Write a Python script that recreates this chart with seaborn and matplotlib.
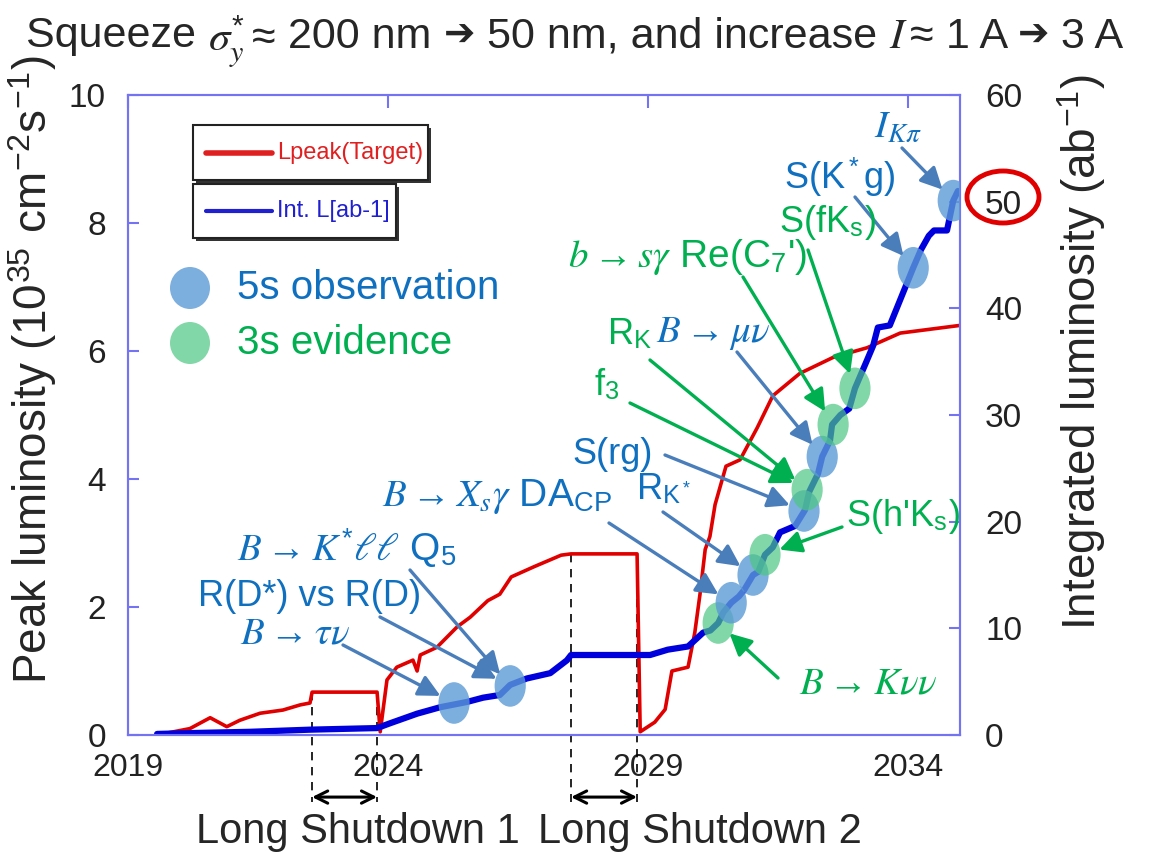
import numpy as np
import matplotlib
matplotlib.use("Agg")
import matplotlib.pyplot as plt
import seaborn as sns
from matplotlib.patches import Ellipse, Rectangle
from matplotlib.lines import Line2D

# ---------------- data ----------------
peak_year = [2019.56, 2020.19, 2020.58, 2020.90, 2021.15, 2021.54, 2021.98, 2022.31, 2022.50,
             2022.54, 2023.79, 2023.85, 2023.98, 2024.17, 2024.48, 2024.56, 2024.62, 2024.94,
             2025.33, 2025.58, 2025.92, 2026.15, 2026.37, 2026.81, 2027.33, 2027.52, 2028.79,
             2028.85, 2029.13, 2029.33, 2029.46, 2029.77, 2029.90, 2030.00, 2030.10, 2030.19,
             2030.29, 2030.50, 2030.77, 2031.10, 2031.40, 2031.92, 2032.56, 2033.21, 2033.85,
             2035.00]
peak_lumi = [0.00, 0.10, 0.27, 0.13, 0.23, 0.34, 0.39, 0.47, 0.50,
             0.67, 0.67, 0.05, 0.86, 1.06, 1.17, 1.00, 1.25, 1.37,
             1.69, 1.84, 2.10, 2.20, 2.47, 2.63, 2.81, 2.83, 2.83,
             0.05, 0.20, 0.40, 1.00, 1.06, 1.60, 2.20, 2.90, 3.10,
             3.60, 4.20, 4.30, 4.80, 5.30, 5.65, 5.90, 6.05, 6.28,
             6.40]

int_year = [2019.56, 2020.38, 2021.35, 2022.50, 2023.79, 2024.04, 2024.56, 2025.00, 2025.52,
            2025.83, 2026.15, 2026.35, 2026.67, 2027.12, 2027.44, 2027.52, 2029.04, 2029.38,
            2029.77, 2030.06, 2030.20, 2030.35, 2030.45, 2030.60, 2030.75, 2030.85, 2031.02,
            2031.12, 2031.25, 2031.40, 2031.54, 2031.83, 2032.02, 2032.10, 2032.27, 2032.35,
            2032.50, 2032.54, 2032.70, 2032.87, 2032.98, 2033.20, 2033.33, 2033.42, 2033.65,
            2033.90, 2034.10, 2034.25, 2034.40, 2034.50, 2034.75, 2034.87, 2034.96]
int_lumi = [0.1, 0.2, 0.3, 0.5, 0.65, 1.1, 2.0, 2.6, 3.1,
            3.5, 3.75, 4.7, 5.3, 5.8, 7.0, 7.5, 7.5, 8.0,
            8.3, 9.6, 9.8, 10.5, 11.5, 12.4, 13.0, 13.6, 15.0,
            15.3, 16.9, 17.6, 19.0, 19.6, 21.1, 22.8, 24.5, 26.1,
            27.6, 29.1, 30.0, 30.6, 32.5, 35.0, 36.5, 38.2, 38.4,
            41.4, 43.8, 45.5, 46.8, 47.3, 47.3, 50.1, 51.0]

# measurement milestones on the integrated-luminosity curve
obs_year = [2025.27, 2026.35, 2030.35, 2030.60, 2031.02, 2031.25, 2032.00, 2032.06,
            2032.35, 2032.56, 2032.98, 2034.10, 2034.87]
obs_lumi = [3.0, 4.6, 10.5, 12.4, 15.0, 16.9, 21.0, 23.0, 26.1, 29.1, 32.5, 43.8, 50.1]
obs_kind = ["5s", "5s", "3s", "5s", "5s", "3s", "5s", "3s", "5s", "3s", "3s", "5s", "5s"]

shutdown_start = [2022.54, 2027.52]
shutdown_end = [2023.79, 2028.79]
shutdown_labels = ["Long Shutdown 1", "Long Shutdown 2"]

left_ticks = [0, 2, 4, 6, 8, 10]
right_ticks = [0, 10, 20, 30, 40, 50, 60]
year_ticks = [2019, 2024, 2029, 2034]

title_parts = ["Squeeze ", r"$\sigma_y^{*}\approx$", " 200 nm ", "\u2794", " 50 nm, and increase ",
               r"$I\approx$", " 1 A ", "\u2794", " 3 A"]

# ---------------- style ----------------
sns.set_style("white")
plt.rcParams["font.family"] = ["Liberation Sans", "DejaVu Sans"]
plt.rcParams["mathtext.fontset"] = "custom"
plt.rcParams["mathtext.rm"] = "Liberation Sans"
plt.rcParams["mathtext.it"] = "STIXGeneral:italic"
plt.rcParams["mathtext.bf"] = "Liberation Sans:bold"
plt.rcParams["mathtext.sf"] = "Liberation Sans"

W, H = 1160, 857
fig = plt.figure(figsize=(W / 100, H / 100), dpi=100)


def fx(px):
    return px / W


def fy(py):
    return 1 - py / H


SPINE = "#7474f2"
RED = "#e00000"
BLUE_LINE = "#0000dd"
TXT_BLUE = "#1070C0"
TXT_GREEN = "#00B050"
ARR_BLUE = "#4A7EBB"
CIRC = {"5s": ("#5B9BD5", 0.8), "3s": ("#4CC783", 0.7)}

ax = fig.add_axes([fx(128), fy(735), (960 - 128) / W, (735 - 95) / H])
ax2 = ax.twinx()

sns.lineplot(x=peak_year, y=peak_lumi, ax=ax, color=RED, lw=2.6, sort=False, estimator=None)
sns.lineplot(x=int_year, y=int_lumi, ax=ax2, color=BLUE_LINE, lw=4.5, sort=False, estimator=None)

ax.set_xlim(2019, 2035)
ax.set_ylim(0, 10)
ax2.set_ylim(0, 60)
ax.set_xticks(year_ticks)
ax.set_yticks(left_ticks)
ax2.set_yticks(right_ticks)
ax.set_xlabel("")
ax.set_ylabel("")
ax2.set_ylabel("")

for a in (ax, ax2):
    for sp in a.spines.values():
        sp.set_color(SPINE)
        sp.set_linewidth(1.5)
ax.tick_params(axis="y", direction="in", length=8, width=1.5, color=SPINE,
               labelsize=24, labelcolor="#222222", pad=16)
ax.tick_params(axis="x", direction="in", length=9, width=1.5, color=SPINE, top=True,
               labelsize=23, labelcolor="#222222", pad=13)
ax2.tick_params(axis="y", direction="in", length=8, width=1.5, color=SPINE,
                labelsize=24, labelcolor="#222222", pad=18)

# milestone ellipses
for yr, val, kind in zip(obs_year, obs_lumi, obs_kind):
    fc, al = CIRC[kind]
    ax2.add_patch(Ellipse((yr, val), width=0.6, height=3.9, facecolor=fc,
                          alpha=al, edgecolor="none", zorder=5))

# shutdown markers
for s, e, lab in zip(shutdown_start, shutdown_end, shutdown_labels):
    top = np.interp(s + 0.01, peak_year, peak_lumi)
    for xv in (s, e):
        ax.plot([xv, xv], [top, -1.05], ls=(0, (5, 4)), color="black", lw=1.2,
                clip_on=False, zorder=1)
    ax.annotate("", xy=(e, -0.97), xytext=(s, -0.97), xycoords="data",
                arrowprops=dict(arrowstyle="<->", lw=2.2, color="black",
                                mutation_scale=22, shrinkA=0, shrinkB=0),
                annotation_clip=False)
fig.text(fx(358), fy(832), shutdown_labels[0], fontsize=30, ha="center", va="center")
fig.text(fx(700), fy(832), shutdown_labels[1], fontsize=30, ha="center", va="center")

# annotations: text, colour kind, text centre (px), arrow tail (px), milestone index
annotations = [
    (r"$B\to\tau\nu$", "b", (295, 633), (343, 645), 0),
    ("R(D*) vs R(D)", "b", (310, 597), (380, 617), 1),
    (r"$B\to K^{*}\ell\ell$ Q$_5$", "b", (347, 548), (410, 570), 1),
    (r"$B\to X_s\gamma$ DA$_\mathrm{CP}$", "b", (497, 497), (609, 523), 3),
    (r"R$_{\mathrm{K}^*}$", "b", (664, 490), (663, 512), 4),
    ("S(rg)", "b", (613, 455), (665, 455), 6),
    (r"$B\to\mu\nu$", "b", (713, 333), (737, 352), 8),
    (r"S(K$^*$g)", "b", (840, 176), (855, 197), 11),
    (r"$I_{K\pi}$", "b", (898, 127), (902, 148), 12),
    (r"$b\to s\gamma$ Re(C$_7$')", "g", (688, 257), (743, 277), 9),
    (r"S(fK$_\mathrm{s}$)", "g", (827, 222), (808, 250), 10),
    (r"R$_\mathrm{K}$", "g", (630, 335), (650, 360), 7),
    (r"f$_3$", "g", (607, 385), (630, 403), 7),
    (r"S(h'K$_\mathrm{s}$)", "g", (903, 517), (842, 527), 5),
    (r"$B\to K\nu\nu$", "g", (868, 683), (778, 678), 2),
]
for text, kind, (tx, ty), (ax_px, ay_px), idx in annotations:
    tcol = TXT_BLUE if kind == "b" else TXT_GREEN
    acol = ARR_BLUE if kind == "b" else TXT_GREEN
    fs = 28 if text.startswith("$") else 26
    fig.text(fx(tx), fy(ty), text, color=tcol, fontsize=fs, ha="center", va="center", zorder=7)
    ax2.annotate("", xy=(obs_year[idx], obs_lumi[idx]), xycoords="data",
                 xytext=(fx(ax_px), fy(ay_px)), textcoords="figure fraction",
                 arrowprops=dict(arrowstyle="-|>,head_length=0.6,head_width=0.3", color=acol,
                                 lw=2.4, shrinkA=0, shrinkB=11, mutation_scale=22),
                 annotation_clip=False, zorder=6)

# significance legend
fig.add_artist(Ellipse((fx(190), fy(288)), 40 / W, 42 / H, transform=fig.transFigure,
                       facecolor=CIRC["5s"][0], alpha=CIRC["5s"][1], edgecolor="none"))
fig.add_artist(Ellipse((fx(190), fy(343)), 40 / W, 42 / H, transform=fig.transFigure,
                       facecolor=CIRC["3s"][0], alpha=CIRC["3s"][1], edgecolor="none"))
fig.text(fx(237), fy(288), "5s observation", color=TXT_BLUE, fontsize=29, ha="left", va="center")
fig.text(fx(237), fy(343), "3s evidence", color=TXT_GREEN, fontsize=29, ha="left", va="center")

# line legend boxes (with drop shadow)
def legend_box(x0, y0, x1, y1, color, label, lw):
    fig.add_artist(Rectangle((fx(x0 + 3), fy(y1 + 3)), (x1 - x0) / W, (y1 - y0) / H,
                             transform=fig.transFigure, facecolor="#333333", edgecolor="none"))
    fig.add_artist(Rectangle((fx(x0), fy(y1)), (x1 - x0) / W, (y1 - y0) / H,
                             transform=fig.transFigure, facecolor="white",
                             edgecolor="#222222", lw=1.5))
    yc = (y0 + y1) / 2
    fig.add_artist(Line2D([fx(x0 + 13), fx(x0 + 79)], [fy(yc), fy(yc)],
                          transform=fig.transFigure, color=color, lw=lw))
    fig.text(fx(x0 + 84), fy(yc), label, color=color, fontsize=17, ha="left", va="center")


legend_box(193, 125, 428, 180, "#e02020", "Lpeak(Target)", 4)
legend_box(193, 184, 396, 238, "#2020d0", "Int. L[ab-1]", 3)

# axis labels
fig.text(fx(33), fy(370), r"Peak luminosity (10$^{35}$ cm$^{-2}$s$^{-1}$)", fontsize=33,
         rotation=90, ha="center", va="center")
fig.text(fx(1082), fy(352), r"Integrated luminosity (ab$^{-1}$)", fontsize=33,
         rotation=90, ha="center", va="center")

# title assembled piece by piece (math pieces + bold arrow glyph)
renderer = fig.canvas.get_renderer()
x_cur = fx(26)
for part in title_parts:
    if part == "\u2794":
        t = fig.text(x_cur, fy(32), part, fontsize=27, family=["DejaVu Sans"],
                     ha="left", va="center_baseline")
    else:
        t = fig.text(x_cur, fy(32), part, fontsize=31, ha="left", va="center_baseline")
    bb = t.get_window_extent(renderer=renderer)
    x_cur += bb.width / W

# red ring around the 50 ab^-1 goal
fig.add_artist(Ellipse((fx(1003), fy(197)), 72 / W, 52 / H, transform=fig.transFigure,
                       fill=False, edgecolor="#e00000", lw=3.5))

fig.savefig("out.png", dpi=100)
